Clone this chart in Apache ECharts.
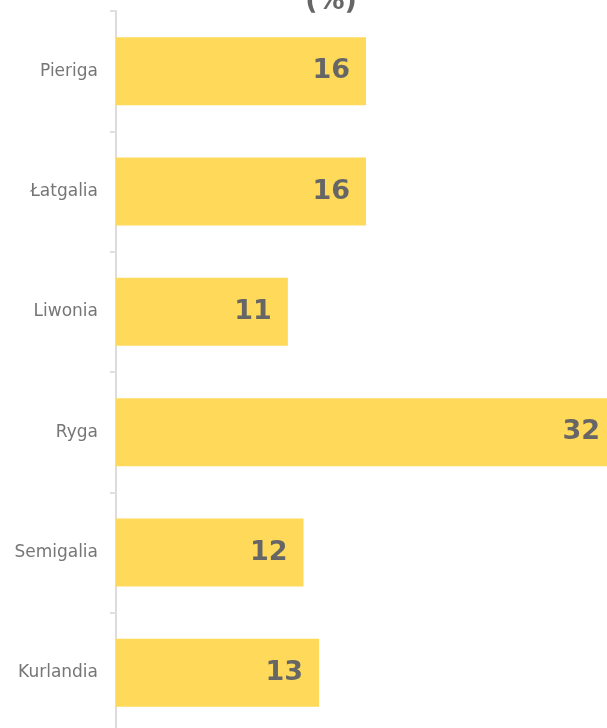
<!DOCTYPE html>
<html><head><meta charset="utf-8">
<script src="https://cdn.jsdelivr.net/npm/echarts@6/dist/echarts.min.js"></script>
<style>html,body{margin:0;padding:0;background:#fff}#c{width:607px;height:728px}</style>
</head><body><div id="c"></div>
<script>
const categories = ['Kurlandia','Semigalia','Ryga','Liwonia','Łatgalia','Pieriga'];
const values = [13,12,32,11,16,16];
const titleText = '(%)';

const chart = echarts.init(document.getElementById('c'), null, {renderer:'canvas'});
chart.setOption({
  animation:false,
  backgroundColor:'#fff',
  title:{text:titleText, left:326, top:-17, textAlign:'center',
    textStyle:{fontFamily:'DejaVu Sans, sans-serif', fontWeight:'bold', fontSize:27, color:'#666'}},
  grid:{left:116, top:11, right:-9, height:722, containLabel:false, outerBoundsMode:'none'},
  xAxis:{type:'value', min:0, max:32, show:false},
  yAxis:{type:'category', data:categories,
    axisLine:{show:true, lineStyle:{color:'#dcdcdc', width:2}},
    axisTick:{show:true, length:6, lineStyle:{color:'#e0e0e0', width:2}},
    axisLabel:{margin:18, fontFamily:'DejaVu Sans, sans-serif', fontSize:17, color:'#767676'}},
  series:[{type:'bar', data:values, barWidth:68,
    itemStyle:{color:'#FFD95A'},
    label:{show:true, position:'insideRight', distance:16,
      fontFamily:'DejaVu Sans, sans-serif', fontWeight:'bold', fontSize:27, color:'#666'}}]
});
</script></body></html>
